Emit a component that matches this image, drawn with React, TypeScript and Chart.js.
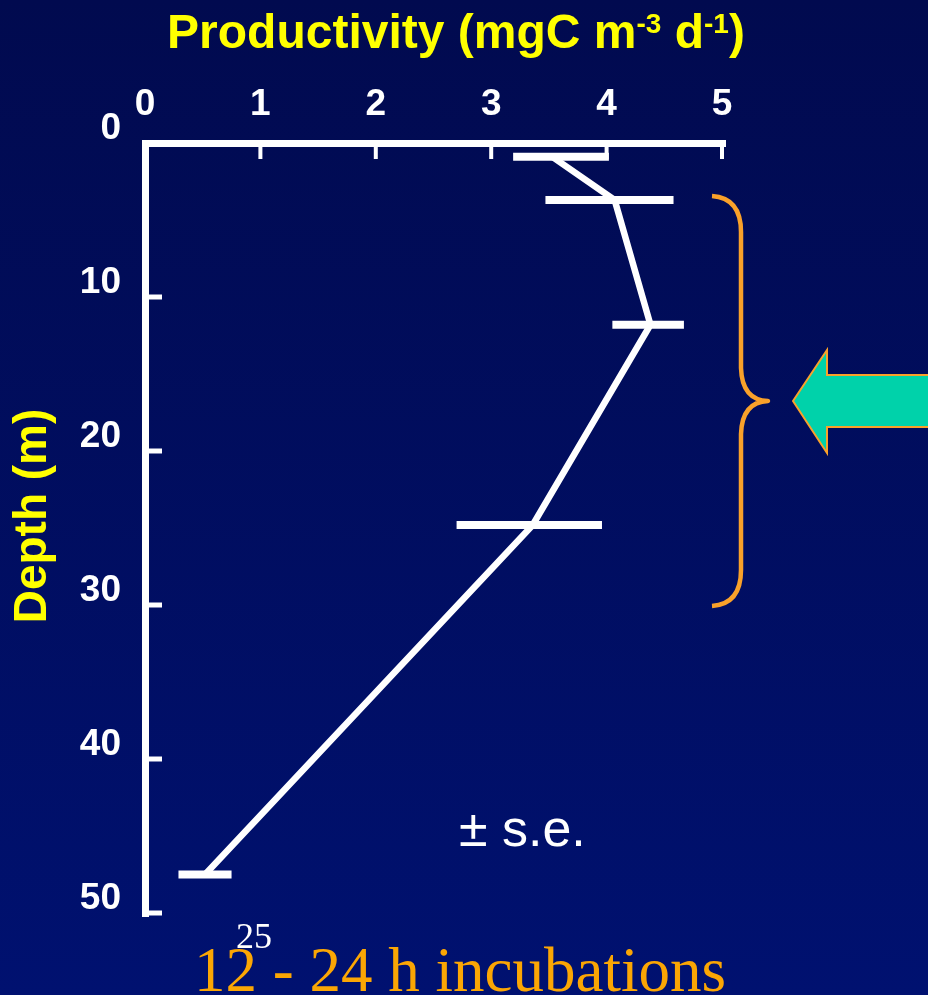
import React, { useEffect, useRef } from 'react';
import { Chart, registerables } from 'chart.js';

Chart.register(...registerables);

// ---- data ----
const depthM = [0.9, 3.7, 11.8, 24.8, 47.5];
const productivity = [3.53, 4.07, 4.38, 3.36, 0.52];
const seLow = [3.19, 3.47, 4.05, 2.7, 0.29];
const seHigh = [4.02, 4.58, 4.67, 3.96, 0.75];
const xTickValues = [0, 1, 2, 3, 4, 5];
const yTickValues = [0, 10, 20, 30, 40, 50];
const titleMain = 'Productivity (mgC m';
const titleSup1 = '-3';
const titleMid = ' d';
const titleSup2 = '-1';
const titleEnd = ')';
const yAxisTitle = 'Depth (m)';
const seNote = '± s.e.';
const footerText = '12 - 24 h incubations';
const slideNumber = '25';

const SANS = "'Liberation Sans', Arial, Helvetica, sans-serif";
const SERIF = "'Liberation Serif', 'Times New Roman', Times, serif";

const backgroundPlugin = {
  id: 'bg',
  beforeDraw(chart: any) {
    const { ctx, width, height } = chart;
    ctx.save();
    const g = ctx.createLinearGradient(0, 0, 0, height);
    g.addColorStop(0, '#010a4f');
    g.addColorStop(1, '#001170');
    ctx.fillStyle = g;
    ctx.fillRect(0, 0, width, height);
    ctx.restore();
  },
};

const decorPlugin = {
  id: 'decor',
  afterDatasetsDraw(chart: any) {
    const { ctx } = chart;
    const xs = chart.scales.x;
    const ys = chart.scales.y;
    ctx.save();
    // inward tick marks
    ctx.strokeStyle = '#ffffff';
    ctx.lineWidth = 4;
    ctx.lineCap = 'butt';
    const top = chart.chartArea.top;
    const left = chart.chartArea.left;
    xTickValues.forEach((v) => {
      if (v === 0) return;
      const px = xs.getPixelForValue(v);
      ctx.beginPath();
      ctx.moveTo(px, top);
      ctx.lineTo(px, top + 16);
      ctx.stroke();
    });
    ctx.lineWidth = 5;
    yTickValues.forEach((v) => {
      const py = ys.getPixelForValue(v);
      ctx.beginPath();
      ctx.moveTo(left, py);
      ctx.lineTo(left + 17, py);
      ctx.stroke();
    });
    // error bars
    ctx.lineWidth = 8;
    depthM.forEach((d, i) => {
      const py = ys.getPixelForValue(d);
      ctx.beginPath();
      ctx.moveTo(xs.getPixelForValue(seLow[i]), py);
      ctx.lineTo(xs.getPixelForValue(seHigh[i]), py);
      ctx.stroke();
    });
    ctx.restore();
  },
  afterDraw(chart: any) {
    const { ctx } = chart;
    ctx.save();
    // title with superscripts
    const bigFont = `bold 48px ${SANS}`;
    const supFont = `bold 28px ${SANS}`;
    ctx.font = bigFont;
    const w1 = ctx.measureText(titleMain).width;
    const w3 = ctx.measureText(titleMid).width;
    const w5 = ctx.measureText(titleEnd).width;
    ctx.font = supFont;
    const w2 = ctx.measureText(titleSup1).width;
    const w4 = ctx.measureText(titleSup2).width;
    const total = w1 + w2 + w3 + w4 + w5;
    let x = 456 - total / 2;
    const base = 48;
    ctx.fillStyle = '#ffff00';
    ctx.textBaseline = 'alphabetic';
    ctx.textAlign = 'left';
    ctx.font = bigFont;
    ctx.fillText(titleMain, x, base);
    x += w1;
    ctx.font = supFont;
    ctx.fillText(titleSup1, x, base - 15);
    x += w2;
    ctx.font = bigFont;
    ctx.fillText(titleMid, x, base);
    x += w3;
    ctx.font = supFont;
    ctx.fillText(titleSup2, x, base - 15);
    x += w4;
    ctx.font = bigFont;
    ctx.fillText(titleEnd, x, base);

    // y axis title
    ctx.save();
    ctx.translate(46, 516);
    ctx.rotate(-Math.PI / 2);
    ctx.font = `bold 46px ${SANS}`;
    ctx.textAlign = 'center';
    ctx.fillText(yAxisTitle, 0, 0);
    ctx.restore();

    // ± s.e.
    ctx.fillStyle = '#ffffff';
    ctx.font = `52px ${SANS}`;
    ctx.textAlign = 'left';
    ctx.fillText(seNote, 459, 846);

    // footer
    ctx.fillStyle = '#fba604';
    ctx.font = `63px ${SERIF}`;
    ctx.fillText(footerText, 194, 991);
    ctx.fillStyle = '#ffffff';
    ctx.font = `36px ${SERIF}`;
    ctx.fillText(slideNumber, 236, 948);

    // brace
    ctx.strokeStyle = '#f9a12a';
    ctx.lineWidth = 4.5;
    ctx.lineJoin = 'round';
    ctx.beginPath();
    ctx.moveTo(712, 196);
    ctx.quadraticCurveTo(741, 198, 741, 232);
    ctx.lineTo(741, 368);
    ctx.quadraticCurveTo(742, 400, 768, 401);
    ctx.quadraticCurveTo(742, 402, 741, 434);
    ctx.lineTo(741, 570);
    ctx.quadraticCurveTo(741, 604, 712, 606);
    ctx.stroke();

    // arrow
    ctx.fillStyle = '#00d2aa';
    ctx.strokeStyle = '#f9a12a';
    ctx.lineWidth = 2;
    ctx.lineJoin = 'miter';
    ctx.beginPath();
    ctx.moveTo(793, 401);
    ctx.lineTo(827, 350);
    ctx.lineTo(827, 375);
    ctx.lineTo(935, 375);
    ctx.lineTo(935, 427);
    ctx.lineTo(827, 427);
    ctx.lineTo(827, 453);
    ctx.closePath();
    ctx.fill();
    ctx.stroke();
    ctx.restore();
  },
};

export default function App() {
  const canvasRef = useRef<HTMLCanvasElement | null>(null);

  useEffect(() => {
    const canvas = canvasRef.current;
    if (!canvas) return;
    const chart = new Chart(canvas, {
      type: 'scatter',
      data: {
        datasets: [
          {
            label: 'Productivity',
            data: depthM.map((d, i) => ({ x: productivity[i], y: d })),
            showLine: true,
            borderColor: '#ffffff',
            borderWidth: 6.5,
            pointRadius: 0,
            pointHoverRadius: 0,
            fill: false,
            tension: 0,
          },
        ],
      },
      options: {
        responsive: false,
        maintainAspectRatio: false,
        animation: false,
        events: [],
        layout: { padding: { left: 0, top: 0, right: 206, bottom: 82 } },
        plugins: {
          legend: { display: false },
          tooltip: { enabled: false },
          title: { display: false },
        },
        scales: {
          x: {
            type: 'linear',
            position: 'top',
            min: 0,
            max: 5,
            afterFit: (scale: any) => {
              scale.height = 143;
            },
            afterBuildTicks: (scale: any) => {
              scale.ticks = xTickValues.map((v) => ({ value: v }));
            },
            grid: {
              display: true,
              drawOnChartArea: false,
              drawTicks: false,
              color: 'rgba(0,0,0,0)',
              lineWidth: 7,
            },
            border: { display: true, color: '#ffffff', width: 7 },
            ticks: {
              color: '#ffffff',
              font: { family: SANS, size: 37, weight: 'bold' },
              padding: 16,
              maxRotation: 0,
              autoSkip: false,
              callback: (v: any) => String(v),
            },
          },
          y: {
            type: 'linear',
            position: 'left',
            reverse: true,
            min: 0,
            max: 50,
            afterFit: (scale: any) => {
              scale.width = 145;
            },
            afterBuildTicks: (scale: any) => {
              scale.ticks = yTickValues.map((v) => ({ value: v }));
            },
            grid: {
              display: true,
              drawOnChartArea: false,
              drawTicks: false,
              color: 'rgba(0,0,0,0)',
              lineWidth: 7,
            },
            border: { display: true, color: '#ffffff', width: 7 },
            ticks: {
              color: '#ffffff',
              font: { family: SANS, size: 37, weight: 'bold' },
              padding: 24,
              labelOffset: -14,
              autoSkip: false,
              callback: (v: any) => String(v),
            },
          },
        },
      },
      plugins: [backgroundPlugin, decorPlugin],
    });
    return () => chart.destroy();
  }, []);

  return (
    <div style={{ position: 'absolute', left: 0, top: 0, width: 928, height: 995, overflow: 'hidden' }}>
      <canvas ref={canvasRef} width={928} height={995} style={{ display: 'block' }} />
    </div>
  );
}
